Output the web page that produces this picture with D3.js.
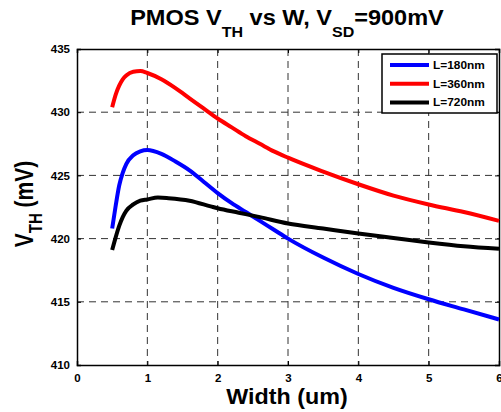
<!DOCTYPE html>
<html>
<head>
<meta charset="utf-8">
<script src="https://cdn.jsdelivr.net/npm/d3@7"></script>
<style>
  html, body { margin: 0; padding: 0; background: #fff; }
  svg text { font-family: Arial, "Liberation Sans", Helvetica, sans-serif; font-weight: bold; fill: #000; }
</style>
</head>
<body>
<svg id="chart" width="501" height="412"></svg>
<script>
// Threshold voltage (mV) against device width (um) for three channel lengths
const widthL180 = [0.5, 0.55, 0.6, 0.65, 0.7, 0.8, 0.9, 1.0, 1.2, 1.4, 1.6, 1.8, 2.0, 2.2, 2.4, 2.6, 2.8, 3.0, 3.5, 4.0, 4.5, 5.0, 5.5, 6.0];
const vthL180   = [420.8, 422.6, 424.2, 425.2, 425.9, 426.6, 426.9, 427.0, 426.7, 426.1, 425.4, 424.5, 423.6, 422.8, 422.1, 421.4, 420.7, 420.0, 418.5, 417.2, 416.1, 415.2, 414.4, 413.6];

const widthL360 = [0.5, 0.55, 0.6, 0.65, 0.7, 0.8, 0.9, 1.0, 1.2, 1.4, 1.6, 1.8, 2.0, 2.2, 2.4, 2.6, 2.8, 3.0, 3.5, 4.0, 4.5, 5.0, 5.5, 6.0];
const vthL360   = [430.4, 431.4, 432.1, 432.6, 432.9, 433.2, 433.25, 433.1, 432.6, 431.9, 431.1, 430.3, 429.5, 428.8, 428.1, 427.5, 426.9, 426.4, 425.3, 424.3, 423.4, 422.7, 422.1, 421.4];

const widthL720 = [0.5, 0.55, 0.6, 0.65, 0.7, 0.8, 0.9, 1.0, 1.15, 1.3, 1.6, 1.9, 2.0, 2.3, 2.6, 3.0, 3.5, 4.0, 4.5, 5.0, 5.5, 6.0];
const vthL720   = [419.1, 420.1, 421.0, 421.7, 422.2, 422.7, 423.0, 423.1, 423.25, 423.2, 423.0, 422.55, 422.4, 422.05, 421.7, 421.2, 420.8, 420.4, 420.05, 419.7, 419.4, 419.2];

const seriesNames  = ["L=180nm", "L=360nm", "L=720nm"];
const seriesColors = ["#0000ff", "#ff0000", "#000000"];

const xTicks = [0, 1, 2, 3, 4, 5, 6];
const yTicks = [410, 415, 420, 425, 430, 435];

const series = [
  { name: seriesNames[0], color: seriesColors[0], pts: widthL180.map((w, i) => [w, vthL180[i]]) },
  { name: seriesNames[1], color: seriesColors[1], pts: widthL360.map((w, i) => [w, vthL360[i]]) },
  { name: seriesNames[2], color: seriesColors[2], pts: widthL720.map((w, i) => [w, vthL720[i]]) }
];

const svg = d3.select("#chart");
const plot = { left: 77, right: 499, top: 49, bottom: 365 };

const x = d3.scaleLinear().domain([0, 6]).range([plot.left, plot.right]);
const y = d3.scaleLinear().domain([410, 435]).range([plot.bottom, plot.top]);

// dashed grid
const grid = svg.append("g").attr("stroke", "#333").attr("stroke-width", 1).attr("stroke-dasharray", "7,5");
grid.selectAll("line.gx").data(xTicks.slice(1, -1)).join("line")
  .attr("x1", d => x(d)).attr("x2", d => x(d))
  .attr("y1", plot.top).attr("y2", plot.bottom);
grid.selectAll("line.gy").data(yTicks.slice(1, -1)).join("line")
  .attr("y1", d => y(d)).attr("y2", d => y(d))
  .attr("x1", plot.left).attr("x2", plot.right);

// axes with inward ticks
const xAxis = svg.append("g").attr("transform", `translate(0,${plot.bottom})`)
  .call(d3.axisBottom(x).tickValues(xTicks).tickSize(-4).tickPadding(9).tickFormat(d3.format("d")));
const yAxis = svg.append("g").attr("transform", `translate(${plot.left},0)`)
  .call(d3.axisLeft(y).tickValues(yTicks).tickSize(-4).tickPadding(7).tickFormat(d3.format("d")));
svg.append("g").attr("transform", `translate(0,${plot.top})`)
  .call(d3.axisTop(x).tickValues(xTicks).tickSize(-4).tickFormat(""));
svg.append("g").attr("transform", `translate(${plot.right},0)`)
  .call(d3.axisRight(y).tickValues(yTicks).tickSize(-4).tickFormat(""));

svg.selectAll(".domain").attr("stroke", "#000").attr("stroke-width", 1.5);
svg.selectAll(".tick line").attr("stroke", "#000");
xAxis.selectAll("text").attr("font-size", 11.5).attr("font-weight", "bold").attr("fill", "#000");
yAxis.selectAll("text").attr("font-size", 11.5).attr("font-weight", "bold").attr("fill", "#000");

// curves
const line = d3.line().x(d => x(d[0])).y(d => y(d[1])).curve(d3.curveMonotoneX);
svg.append("g").selectAll("path").data(series).join("path")
  .attr("d", d => line(d.pts))
  .attr("fill", "none")
  .attr("stroke", d => d.color)
  .attr("stroke-width", 4)
  .attr("stroke-linejoin", "round");

// legend
const lg = svg.append("g").attr("transform", "translate(382,54)");
lg.append("rect").attr("width", 115).attr("height", 59)
  .attr("fill", "#fff").attr("stroke", "#000").attr("stroke-width", 1.5);
const rows = lg.selectAll("g.row").data(series).join("g")
  .attr("transform", (d, i) => `translate(0,${11 + i * 18.7})`);
rows.append("line").attr("x1", 8).attr("x2", 47).attr("y1", 0).attr("y2", 0)
  .attr("stroke", d => d.color).attr("stroke-width", 4);
rows.append("text").attr("font-size", 11).attr("transform", "scale(1.08,1)")
  .attr("x", 51 / 1.08).attr("y", 4).text(d => d.name);

// title (slightly widened lettering)
const title = svg.append("text").attr("transform", "translate(287,25) scale(1.07,1)")
  .attr("text-anchor", "middle").attr("font-size", 22);
title.append("tspan").text("PMOS V");
title.append("tspan").attr("dy", 12).attr("font-size", 15).text("TH");
title.append("tspan").attr("dy", -12).text(" vs W, V");
title.append("tspan").attr("dy", 12).attr("font-size", 15).text("SD");
title.append("tspan").attr("dy", -12).text("=900mV");

// axis titles
svg.append("text").attr("transform", "translate(287,404) scale(1.06,1)")
  .attr("text-anchor", "middle").attr("font-size", 22).text("Width (um)");
const yl = svg.append("text").attr("transform", "translate(33,204) scale(1.25,1) rotate(-90)")
  .attr("text-anchor", "middle").attr("font-size", 21);
yl.append("tspan").text("V");
yl.append("tspan").attr("dy", 7).attr("font-size", 15).text("TH");
yl.append("tspan").attr("dy", -7).text(" (mV)");
</script>
</body>
</html>
